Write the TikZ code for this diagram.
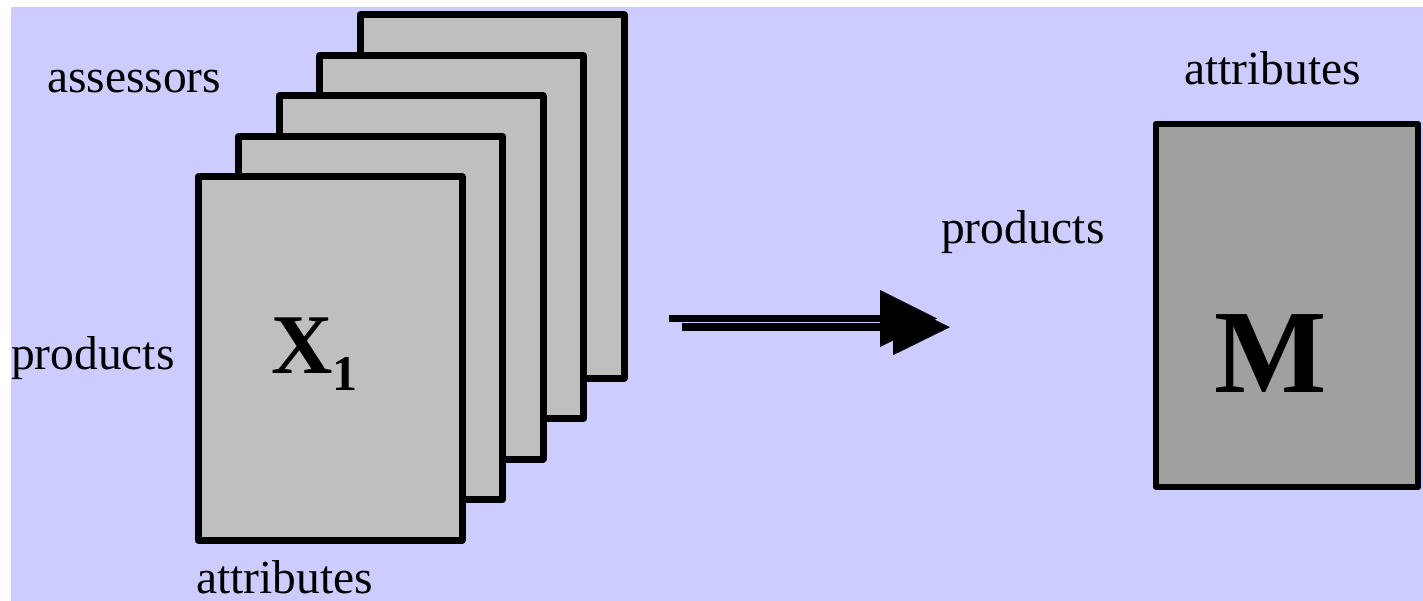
\documentclass[tikz,border=0pt]{standalone}
\usepackage{fontspec}
\setmainfont{Liberation Serif}
\usetikzlibrary{calc}
\definecolor{lavender}{HTML}{CCCCFF}
\definecolor{sheetgray}{HTML}{BFBFBF}
\definecolor{boxgray}{HTML}{A0A0A0}
\begin{document}
\begin{tikzpicture}[x=1pt,y=-1pt,
  sheet/.style={draw=black,fill=sheetgray,line width=7pt,line join=round,
    minimum width=264pt,minimum height=363pt,inner sep=0pt,outer sep=0pt},
  mbox/.style={draw=black,fill=boxgray,line width=6.5pt,line join=round,
    minimum width=262pt,minimum height=363pt,inner sep=0pt,outer sep=0pt},
  lbl/.style={anchor=base west,inner sep=0pt,outer sep=0pt,
    font=\fontsize{47.5}{50}\selectfont},
  arrowfill/.style={fill=black}]
  % canvas
  \fill[white] (0,0) rectangle (1423,601);
  \useasboundingbox (0,0) rectangle (1423,601);
  \fill[lavender] (11,7) rectangle (1423,601);

  % stack of assessor matrices, back to front
  \foreach \i in {4,3,2,1,0}{
    \node[sheet] (sheet\i) at ({330+40.5*\i},{358.5-40.5*\i}) {};
  }
  \node[anchor=base west,inner sep=0pt] (xone) at (271,373)
    {\fontsize{85}{85}\selectfont\bfseries X\raisebox{-17pt}{\fontsize{50}{50}\selectfont 1}};

  % labels of the stack
  \node[lbl] (assessors) at (47,93) {assessors};
  \node[lbl] (prodleft) at (11,369) {products};
  \node[lbl] (attrbottom) at (196,593) {attributes};

  % transition arrow (two offset layers)
  \coordinate (arrA) at (669,318.5);
  \coordinate (arrB) at (682,327.2);
  \fill[arrowfill] ($(arrA)+(0,-3.5)$) rectangle ($(arrA)+(212,3.2)$);
  \fill[arrowfill] ($(arrA)+(211,-28.5)$) -- ($(arrA)+(268,0)$) -- ($(arrA)+(211,28.5)$) -- cycle;
  \fill[arrowfill] ($(arrB)+(0,-3.9)$) rectangle ($(arrB)+(212,3.8)$);
  \fill[arrowfill] ($(arrB)+(211,-28)$) -- ($(arrB)+(268,0)$) -- ($(arrB)+(211,28)$) -- cycle;

  % consensus matrix
  \node[mbox] (mmat) at (1287,305.5) {};
  \node[anchor=base west,inner sep=0pt] (mletter) at (1214,392)
    {\fontsize{119}{119}\selectfont\bfseries M};
  \node[lbl] (prodright) at (941,244) {products};
  \node[lbl] (attrright) at (1184,85) {attributes};
\end{tikzpicture}
\end{document}
